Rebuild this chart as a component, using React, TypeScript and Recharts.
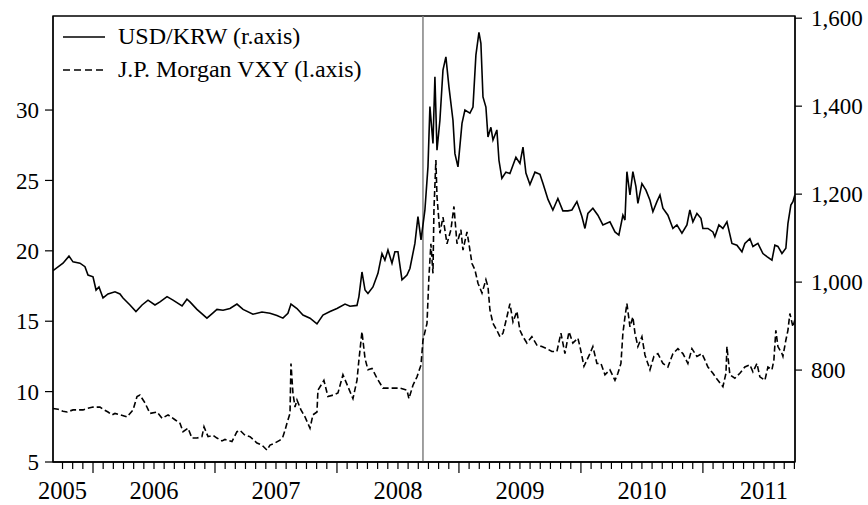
import { LineChart, Line, XAxis, YAxis, ReferenceLine, ReferenceArea, Legend } from 'recharts';

const FONT = '"Liberation Serif", "Times New Roman", serif';

// dates as decimal years
const krwDates = [
  2005.672, 2005.754, 2005.803, 2005.836, 2005.893, 2005.934, 2005.959,
  2006.0, 2006.025, 2006.049, 2006.082, 2006.123, 2006.18, 2006.221, 2006.246, 2006.303, 2006.352, 2006.402,
  2006.451, 2006.508, 2006.549, 2006.607, 2006.656, 2006.73, 2006.77, 2006.795, 2006.852, 2006.934, 2006.984,
  2007.016, 2007.066, 2007.123, 2007.18, 2007.23, 2007.311, 2007.385, 2007.451, 2007.508, 2007.557, 2007.598,
  2007.623, 2007.672, 2007.721, 2007.779, 2007.836, 2007.885, 2007.943,
  2008.0, 2008.066, 2008.107, 2008.164, 2008.18, 2008.205, 2008.23, 2008.254, 2008.295, 2008.336, 2008.369,
  2008.393, 2008.418, 2008.451, 2008.475, 2008.5, 2008.533, 2008.574, 2008.598, 2008.639, 2008.664, 2008.689,
  2008.721, 2008.746, 2008.762, 2008.787, 2008.803, 2008.82, 2008.844, 2008.869, 2008.893, 2008.918, 2008.951,
  2008.967, 2008.992,
  2009.025, 2009.049, 2009.09, 2009.115, 2009.139, 2009.164, 2009.18, 2009.197, 2009.221, 2009.238, 2009.262,
  2009.279, 2009.311, 2009.328, 2009.352, 2009.385, 2009.418, 2009.467, 2009.5, 2009.525, 2009.549, 2009.582,
  2009.623, 2009.664, 2009.689, 2009.73, 2009.77, 2009.811, 2009.852, 2009.893, 2009.926, 2009.967,
  2010.008, 2010.033, 2010.057, 2010.098, 2010.139, 2010.18, 2010.238, 2010.279, 2010.311, 2010.344, 2010.361,
  2010.377, 2010.402, 2010.426, 2010.451, 2010.467, 2010.5, 2010.533, 2010.566, 2010.59, 2010.623, 2010.648,
  2010.672, 2010.713, 2010.754, 2010.787, 2010.828, 2010.869, 2010.893, 2010.918, 2010.951, 2010.984,
  2011.0, 2011.041, 2011.082, 2011.098, 2011.131, 2011.164, 2011.197, 2011.238, 2011.279, 2011.32, 2011.344,
  2011.385, 2011.41, 2011.451, 2011.492, 2011.525, 2011.566, 2011.59, 2011.615, 2011.648, 2011.68, 2011.697,
  2011.721, 2011.738, 2011.754,
];

const krwRate = [
  1026, 1043, 1059, 1046, 1043, 1035, 1016,
  1012, 982, 989, 964, 973, 978, 973, 964, 948, 933, 948,
  959, 948, 955, 967, 959, 946, 961, 955, 938, 918, 930,
  938, 936, 940, 950, 938, 927, 932, 929, 924, 918, 929,
  950, 940, 925, 918, 905, 925, 933,
  940, 950, 945, 947, 967, 1023, 982, 974, 989, 1020, 1065,
  1050, 1073, 1043, 1069, 1069, 1005, 1016, 1031, 1088, 1149, 1096,
  1164, 1262, 1399, 1315, 1467, 1300, 1368, 1482, 1512, 1444, 1368,
  1292, 1262,
  1361, 1391, 1384, 1398, 1516, 1568, 1543, 1421, 1398, 1330, 1352,
  1323, 1346, 1277, 1236, 1250, 1247, 1284, 1270, 1307, 1248, 1222,
  1250, 1245, 1224, 1188, 1164, 1190, 1162, 1162, 1164, 1183,
  1149, 1122, 1156, 1168, 1152, 1130, 1137, 1114, 1107, 1152, 1141,
  1251, 1198, 1251, 1217, 1179, 1224, 1209, 1186, 1160, 1183, 1198,
  1168, 1152, 1122, 1130, 1111, 1130, 1164, 1137, 1156, 1145,
  1122, 1122, 1114, 1103, 1130, 1122, 1137, 1088, 1084, 1069, 1088,
  1099, 1081, 1088, 1065, 1058, 1050, 1084, 1081, 1065, 1077, 1133,
  1175, 1183, 1198,
];

const vxyDates = [
  2005.672, 2005.713, 2005.754, 2005.787, 2005.836, 2005.877, 2005.918, 2005.951,
  2006.0, 2006.057, 2006.082, 2006.123, 2006.156, 2006.18, 2006.221, 2006.279, 2006.328, 2006.361, 2006.385,
  2006.426, 2006.467, 2006.525, 2006.566, 2006.615, 2006.672, 2006.713, 2006.738, 2006.779, 2006.811, 2006.852,
  2006.893, 2006.91, 2006.943, 2006.984,
  2007.016, 2007.057, 2007.082, 2007.139, 2007.18, 2007.205, 2007.246, 2007.287, 2007.344, 2007.385, 2007.426,
  2007.451, 2007.492, 2007.533, 2007.557, 2007.574, 2007.59, 2007.615, 2007.623, 2007.639, 2007.656, 2007.672,
  2007.705, 2007.738, 2007.779, 2007.803, 2007.836, 2007.844, 2007.869, 2007.893, 2007.926, 2007.967,
  2008.008, 2008.049, 2008.09, 2008.131, 2008.164, 2008.18, 2008.205, 2008.23, 2008.254, 2008.287, 2008.328,
  2008.377, 2008.451, 2008.516, 2008.574, 2008.59, 2008.623, 2008.656, 2008.689, 2008.705, 2008.738, 2008.754,
  2008.77, 2008.787, 2008.795, 2008.811, 2008.82, 2008.844, 2008.869, 2008.902, 2008.934, 2008.959, 2008.984,
  2009.016, 2009.033, 2009.066, 2009.082, 2009.107, 2009.131, 2009.156, 2009.189, 2009.221, 2009.238, 2009.254,
  2009.279, 2009.311, 2009.336, 2009.361, 2009.393, 2009.418, 2009.443, 2009.475, 2009.5, 2009.525, 2009.557,
  2009.598, 2009.639, 2009.68, 2009.721, 2009.762, 2009.803, 2009.836, 2009.869, 2009.902, 2009.934, 2009.975,
  2009.992,
  2010.025, 2010.074, 2010.098, 2010.131, 2010.164, 2010.197, 2010.238, 2010.279, 2010.303, 2010.328, 2010.344,
  2010.361, 2010.377, 2010.402, 2010.426, 2010.443, 2010.467, 2010.5, 2010.525, 2010.566, 2010.598, 2010.631,
  2010.672, 2010.713, 2010.754, 2010.795, 2010.836, 2010.877, 2010.91, 2010.951, 2010.992,
  2011.016, 2011.041, 2011.082, 2011.123, 2011.164, 2011.189, 2011.197, 2011.221, 2011.262, 2011.303, 2011.344,
  2011.385, 2011.41, 2011.443, 2011.467, 2011.508, 2011.533, 2011.566, 2011.582, 2011.598, 2011.615, 2011.648,
  2011.656, 2011.68, 2011.697, 2011.713, 2011.738, 2011.754,
];

const vxyLevel = [
  8.8, 8.75, 8.6, 8.55, 8.7, 8.7, 8.7, 8.8,
  8.9, 8.9, 8.75, 8.55, 8.35, 8.45, 8.35, 8.2, 8.7, 9.65, 9.75,
  9.2, 8.45, 8.55, 8.1, 8.35, 8.0, 7.75, 7.15, 7.4, 6.7, 6.7,
  6.8, 7.5, 6.8, 6.9,
  6.7, 6.5, 6.6, 6.45, 7.15, 7.25, 6.9, 6.8, 6.35, 6.2, 5.85,
  6.2, 6.35, 6.55, 6.8, 7.25, 7.75, 8.45, 12.0, 9.9, 8.9, 9.4,
  8.7, 8.2, 7.4, 8.35, 8.55, 10.1, 10.45, 10.8, 9.65, 9.75,
  9.9, 11.2, 10.35, 9.5, 10.8, 12.25, 14.25, 12.35, 11.55, 11.65, 10.95,
  10.25, 10.25, 10.25, 10.1, 9.5, 10.45, 11.05, 11.9, 13.65, 14.85, 18.15,
  20.5, 18.4, 22.9, 26.45, 23.85, 21.25, 22.4, 20.5, 21.5, 23.15, 20.5,
  21.5, 20.05, 21.35, 20.5, 19.1, 18.65, 17.7, 17.0, 17.95, 17.45, 15.8,
  14.85, 14.35, 13.9, 14.15, 15.3, 16.25, 14.95, 15.7, 14.35, 13.9, 13.45,
  13.9, 13.3, 13.2, 13.05, 12.85, 12.85, 14.15, 12.7, 14.25, 13.45, 13.8,
  13.2,
  11.8, 12.7, 13.2, 12.0, 12.0, 11.2, 11.55, 10.8, 11.3, 12.0, 14.15,
  15.3, 16.25, 14.6, 15.3, 14.15, 13.2, 13.9, 12.6, 11.55, 12.5, 12.7,
  12.0, 11.75, 12.7, 13.05, 12.7, 12.0, 13.05, 12.5, 12.7,
  12.25, 11.75, 11.3, 10.8, 10.35, 11.3, 13.2, 11.2, 10.95, 11.3, 11.75,
  11.9, 11.4, 12.0, 11.05, 10.8, 11.75, 11.55, 12.25, 14.35, 13.2, 12.7,
  12.5, 13.65, 14.35, 15.55, 14.6, 15.1,
];

const krwData = krwDates.map((t, i) => ({ t, rate: krwRate[i] }));
const vxyData = vxyDates.map((t, i) => ({ t, level: vxyLevel[i] }));

const X_DOMAIN: [number, number] = [2005.672, 2011.755];
const VXY_DOMAIN: [number, number] = [5, 36.68];
const KRW_DOMAIN: [number, number] = [591, 1605];
const vxyTicks = [5, 10, 15, 20, 25, 30];
const krwTicks = [800, 1000, 1200, 1400, 1600];
const axisYears = [2005, 2006, 2007, 2008, 2009, 2010, 2011];
const lehmanDate = 2008.705;

const legendItems = [
  { label: 'USD/KRW (r.axis)', dash: undefined },
  { label: 'J.P. Morgan VXY (l.axis)', dash: '7 4' },
];

// one tick per month, long ones at January
const monthTicks: number[] = [];
axisYears.forEach((y) => {
  for (let m = 0; m < 12; m++) {
    const v = +(y + m / 12).toFixed(4);
    if (v > X_DOMAIN[0] && v <= X_DOMAIN[1]) monthTicks.push(v);
  }
});

function MonthTick(props: any) {
  const { x, y, payload, index } = props;
  const v: number = payload.value;
  const year = Math.floor(v + 1e-6);
  const month = Math.round((v - year) * 12) % 12;
  const showYear = month === 6 || index === 0;
  return (
    <g>
      <line x1={x} x2={x} y1={y} y2={y + (month === 0 ? 11 : 7)} stroke="#000" strokeWidth={1.2} />
      {showYear && (
        <text x={x} y={y + 37} textAnchor="middle" fontFamily={FONT} fontSize={24.5} fill="#000">
          {year}
        </text>
      )}
    </g>
  );
}

function LegendBox() {
  return (
    <div style={{ fontFamily: FONT, fontSize: 24, lineHeight: '33px', color: '#000' }}>
      {legendItems.map((item) => (
        <div key={item.label} style={{ display: 'flex', alignItems: 'center', whiteSpace: 'nowrap' }}>
          <svg width={42} height={6} style={{ display: 'block' }}>
            <line x1={0} x2={42} y1={3} y2={3} stroke="#000" strokeWidth={1.6} strokeDasharray={item.dash} />
          </svg>
          <span style={{ marginLeft: 13 }}>{item.label}</span>
        </div>
      ))}
    </div>
  );
}

export default function App() {
  const tickStyle = { fontFamily: FONT, fontSize: 23, fill: '#000' };
  return (
    <div style={{ position: 'absolute', left: 0, top: 0, background: '#fff' }}>
      <LineChart width={868} height={505} margin={{ top: 16, right: 0, bottom: 0, left: 0 }}>
        <XAxis
          dataKey="t"
          type="number"
          domain={X_DOMAIN}
          allowDataOverflow
          ticks={monthTicks}
          interval={0}
          tick={<MonthTick />}
          tickLine={false}
          tickSize={0}
          tickMargin={0}
          height={43}
          axisLine={{ stroke: '#000', strokeWidth: 1.3 }}
        />
        <YAxis
          yAxisId="left"
          orientation="left"
          domain={VXY_DOMAIN}
          ticks={vxyTicks}
          allowDataOverflow
          width={53}
          tickSize={8}
          tickMargin={6}
          tick={tickStyle}
          tickLine={{ stroke: '#000', strokeWidth: 1.2 }}
          axisLine={{ stroke: '#000', strokeWidth: 1.3 }}
        />
        <YAxis
          yAxisId="right"
          orientation="right"
          domain={KRW_DOMAIN}
          ticks={krwTicks}
          allowDataOverflow
          width={73}
          tickSize={7}
          tickMargin={9}
          tick={tickStyle}
          tickFormatter={(v: number) => v.toLocaleString('en-US')}
          tickLine={{ stroke: '#000', strokeWidth: 1.2 }}
          axisLine={{ stroke: '#000', strokeWidth: 1.3 }}
        />
        <ReferenceArea
          yAxisId="left"
          x1={X_DOMAIN[0]}
          x2={X_DOMAIN[1]}
          y1={VXY_DOMAIN[0]}
          y2={VXY_DOMAIN[1]}
          fill="none"
          stroke="#000"
          strokeWidth={1.3}
          ifOverflow="visible"
        />
        <ReferenceLine yAxisId="left" x={lehmanDate} stroke="#808080" strokeWidth={1.5} />
        <Line
          yAxisId="right"
          data={krwData}
          dataKey="rate"
          name="USD/KRW (r.axis)"
          type="linear"
          stroke="#000"
          strokeWidth={1.6}
          dot={false}
          isAnimationActive={false}
        />
        <Line
          yAxisId="left"
          data={vxyData}
          dataKey="level"
          name="J.P. Morgan VXY (l.axis)"
          type="linear"
          stroke="#000"
          strokeWidth={1.6}
          strokeDasharray="6 3"
          dot={false}
          isAnimationActive={false}
        />
        <Legend
          layout="vertical"
          align="center"
          verticalAlign="middle"
          content={<LegendBox />}
          wrapperStyle={{ top: 20, left: 63, width: 'auto', height: 'auto' }}
        />
      </LineChart>
    </div>
  );
}
